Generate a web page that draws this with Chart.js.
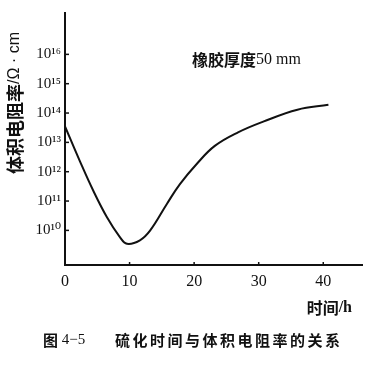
<!DOCTYPE html>
<html>
<head>
<meta charset="utf-8">
<script src="https://cdn.jsdelivr.net/npm/chart.js@4/dist/chart.umd.min.js"></script>
<style>
body { margin: 0; background: #fff; }
</style>
</head>
<body>
<canvas id="myChart" width="370" height="365"></canvas>
<script>
// curing time (h) and volume resistivity (ohm*cm)
const hours = [0, 2.3, 4.4, 6.5, 8.5, 9.6, 11.6, 13.2, 15.8, 17.8, 20.5, 23.2, 26.8, 30.7, 36, 40.8];
const resistivity = [3.5e13, 2.3e12, 2.2e11, 2.8e10, 5.9e9, 3.5e9, 4.6e9, 1.0e10, 8.1e10, 3.8e11, 1.95e12, 7.6e12, 2.2e13, 5.1e13, 1.3e14, 1.9e14];
const xTicks = [0, 10, 20, 30, 40];
const yExponents = [10, 11, 12, 13, 14, 15, 16];

const SUP = '⁰¹²³⁴⁵⁶⁷⁸⁹';
const sup = n => String(n).split('').map(d => SUP[+d]).join('');
const INK = '#111';
const CJK = '"Noto Sans CJK SC"';
const SERIF = '"Liberation Serif", "DejaVu Serif", serif';

function drawRuns(ctx, runs, x, y) {
  runs.forEach(([text, font]) => {
    ctx.font = font;
    ctx.fillText(text, x, y);
    x += ctx.measureText(text).width;
  });
}
function runsWidth(ctx, runs) {
  let w = 0;
  runs.forEach(([text, font]) => { ctx.font = font; w += ctx.measureText(text).width; });
  return w;
}

const figureText = {
  id: 'figureText',
  afterDraw(chart) {
    const { ctx, chartArea, scales } = chart;
    ctx.save();
    ctx.strokeStyle = INK;
    ctx.fillStyle = INK;
    ctx.lineWidth = 1.5;
    // small inside ticks
    scales.y.ticks.forEach(t => {
      const y = scales.y.getPixelForValue(t.value);
      ctx.beginPath(); ctx.moveTo(chartArea.left, y); ctx.lineTo(chartArea.left + 4, y); ctx.stroke();
    });
    scales.x.ticks.forEach(t => {
      if (t.value === 0) return;
      const x = scales.x.getPixelForValue(t.value);
      ctx.beginPath(); ctx.moveTo(x, chartArea.bottom); ctx.lineTo(x, chartArea.bottom - 3); ctx.stroke();
    });

    ctx.textBaseline = 'middle';
    ctx.textAlign = 'left';

    // note inside the plot
    drawRuns(ctx, [['橡胶厚度', 'bold 16px ' + CJK], ['50 mm', '16px ' + SERIF]], 192, 60);

    // x axis title
    const xt = [['时间', 'bold 16px ' + CJK], ['/h', 'bold 16px ' + SERIF]];
    drawRuns(ctx, xt, 352 - runsWidth(ctx, xt), 308);

    // y axis title (rotated)
    const yt = [['体积电阻率', 'bold 18px ' + CJK], ['/Ω · cm', '16px "Liberation Sans", sans-serif']];
    ctx.save();
    ctx.translate(15, 103);
    ctx.rotate(-Math.PI / 2);
    drawRuns(ctx, yt, -runsWidth(ctx, yt) / 2, 0);
    ctx.restore();

    // figure caption
    drawRuns(ctx, [['图', 'bold 15px ' + CJK], [' 4−5', '15px ' + SERIF]], 43, 340);
    ctx.letterSpacing = '2.5px';
    drawRuns(ctx, [['硫化时间与体积电阻率的关系', 'bold 15px ' + CJK]], 115, 340);
    ctx.restore();
  }
};

const ctx = document.getElementById('myChart').getContext('2d');

const myChart = new Chart(ctx, {
  type: 'line',
  data: {
    datasets: [{
      data: hours.map((h, i) => ({ x: h, y: resistivity[i] })),
      borderColor: INK,
      borderWidth: 2,
      pointRadius: 0,
      tension: 0.4,
      fill: false
    }]
  },
  options: {
    responsive: false,
    animation: false,
    layout: { padding: { top: 10, right: 8, left: 0, bottom: 0 } },
    plugins: { legend: { display: false }, tooltip: { enabled: false } },
    scales: {
      x: {
        type: 'linear',
        min: 0,
        max: 46,
        afterBuildTicks: s => { s.ticks = xTicks.map(v => ({ value: v })); },
        afterFit: s => { s.height = 100; },
        grid: { drawOnChartArea: false, drawTicks: false },
        border: { display: true, color: INK, width: 2 },
        ticks: { color: INK, padding: 7, maxRotation: 0, font: { family: SERIF, size: 16 } }
      },
      y: {
        type: 'logarithmic',
        min: Math.pow(10, 8.82),
        max: Math.pow(10, 17.41),
        afterBuildTicks: s => { s.ticks = yExponents.map(e => ({ value: Math.pow(10, e) })); },
        afterFit: s => { s.width = 65; },
        grid: { drawOnChartArea: false, drawTicks: false },
        border: { display: true, color: INK, width: 2 },
        ticks: {
          color: INK,
          padding: 4,
          font: { family: SERIF, size: 15 },
          callback: v => '10' + sup(Math.round(Math.log10(v)))
        }
      }
    }
  },
  plugins: [figureText]
});
</script>
</body>
</html>
